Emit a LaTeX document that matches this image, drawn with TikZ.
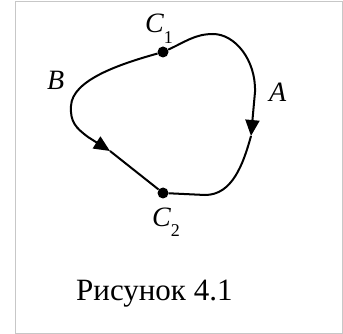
\documentclass[tikz,border=0pt]{standalone}
\usepackage{fontspec}
\setmainfont{Liberation Serif}
\usetikzlibrary{arrows.meta,positioning}

\newcommand{\lblsub}[1]{\raisebox{-0.38em}{\fontsize{18}{18}\selectfont\upshape #1}}

\begin{document}
\begin{tikzpicture}[x=1pt, y=-1pt, >={Triangle[length=16pt,width=14pt]}]
    % Define styles
    \tikzstyle{vertex} = [circle, fill=black, inner sep=0pt, minimum size=11pt]
    \tikzstyle{lbl} = [inner sep=0pt, anchor=base west, font=\fontsize{28}{28}\selectfont\itshape]
    \tikzstyle{caption} = [inner sep=0pt, anchor=base west, font=\fontsize{31}{31}\selectfont]
    \tikzstyle{curve} = [line width=2pt]
    \tikzstyle{frame} = [draw=black!22, line width=1pt]

    \useasboundingbox (0,0) rectangle (343,334);
    \draw [frame] (15,2) rectangle (342,333);

    % Nodes
    \node [vertex] (c1) at (163,52) {};
    \node [vertex] (c2) at (163,193) {};
    \coordinate (tipA) at (251,136);
    \coordinate (tipB) at (110,151);

    \node [lbl] (lc1) at (145,33) {C\lblsub{1}};
    \node [lbl] (lc2) at (152,226) {C\lblsub{2}};
    \node [lbl] (la) at (269,101.5) {A};
    \node [lbl] (lb) at (47,89.5) {B};
    \node [caption] (cap) at (76,300.5) {Рисунок 4.1};

    % Arrows
    \draw [curve, ->] (c1) .. controls (185,42) and (195,34) .. (213,34)
        .. controls (235,34) and (256,60) .. (255,92) -- (tipA);
    \draw [curve] (tipA) .. controls (243,165) and (232,195) .. (205,195) -- (c2);
    \draw [curve, ->] (c1) .. controls (120,64) and (72,80) .. (71,106)
        .. controls (70,122) and (76,128) .. (88,137) -- (tipB);
    \draw [curve] (tipB) -- (c2);
\end{tikzpicture}
\end{document}
